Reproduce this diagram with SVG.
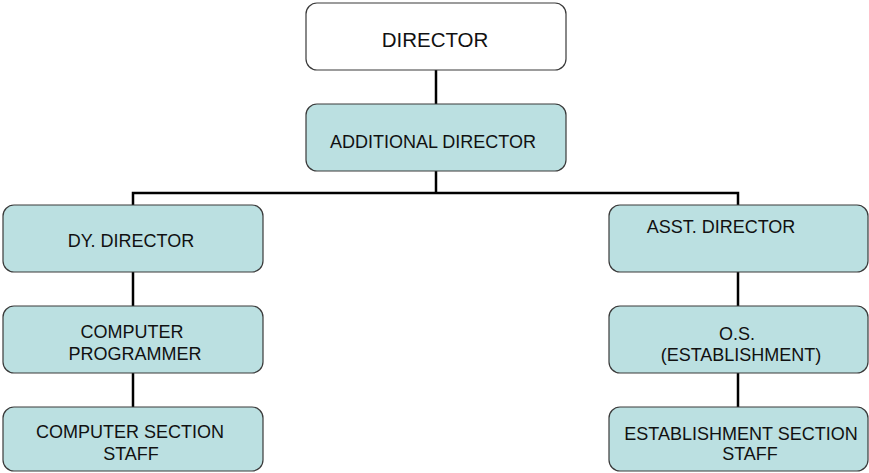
<svg xmlns="http://www.w3.org/2000/svg" width="869" height="473" viewBox="0 0 869 473">
<style>
.box{fill:#bbe0e1;stroke:#3a3a3a;stroke-width:1.2}
.top{fill:#ffffff;stroke:#3a3a3a;stroke-width:1.2}
.t{font-family:"Liberation Sans",Arial,sans-serif;font-size:18px;fill:#111;text-anchor:middle}
.conn{stroke:#000;stroke-width:2.5;fill:none}
</style>
<rect width="869" height="473" fill="#ffffff"/>
<g id="connectors">
<line class="conn" x1="436" y1="70" x2="436" y2="104"/>
<line class="conn" x1="436" y1="171" x2="436" y2="193"/>
<polyline class="conn" points="133,205 133,193 738,193 738,205"/>
<line class="conn" x1="133" y1="272" x2="133" y2="306"/>
<line class="conn" x1="133" y1="373" x2="133" y2="407"/>
<line class="conn" x1="738" y1="272" x2="738" y2="306"/>
<line class="conn" x1="738" y1="373" x2="738" y2="407"/>
</g>
<g id="director">
<rect class="top" x="306" y="3" width="260" height="67" rx="11"/>
<text class="t" x="435" y="47" style="font-size:20.5px">DIRECTOR</text>
</g>
<g id="additional-director">
<rect class="box" x="306" y="104" width="260" height="67" rx="11"/>
<text class="t" x="433" y="148">ADDITIONAL DIRECTOR</text>
</g>
<g id="dy-director">
<rect class="box" x="3" y="205" width="260" height="67" rx="11"/>
<text class="t" x="131" y="247">DY. DIRECTOR</text>
</g>
<g id="computer-programmer">
<rect class="box" x="3" y="306" width="260" height="67" rx="11"/>
<text class="t" x="132" y="338">COMPUTER</text>
<text class="t" x="135" y="360">PROGRAMMER</text>
</g>
<g id="computer-section-staff">
<rect class="box" x="3" y="407" width="260" height="64" rx="11"/>
<text class="t" x="130" y="438">COMPUTER SECTION</text>
<text class="t" x="131" y="460">STAFF</text>
</g>
<g id="asst-director">
<rect class="box" x="609" y="205" width="259" height="67" rx="11"/>
<text class="t" x="721" y="233">ASST. DIRECTOR</text>
</g>
<g id="os-establishment">
<rect class="box" x="609" y="306" width="259" height="67" rx="11"/>
<text class="t" x="737" y="340">O.S.</text>
<text class="t" x="741" y="361">(ESTABLISHMENT)</text>
</g>
<g id="establishment-section-staff">
<rect class="box" x="609" y="407" width="259" height="64" rx="11"/>
<text class="t" x="741" y="440">ESTABLISHMENT SECTION</text>
<text class="t" x="750" y="460">STAFF</text>
</g>
</svg>
